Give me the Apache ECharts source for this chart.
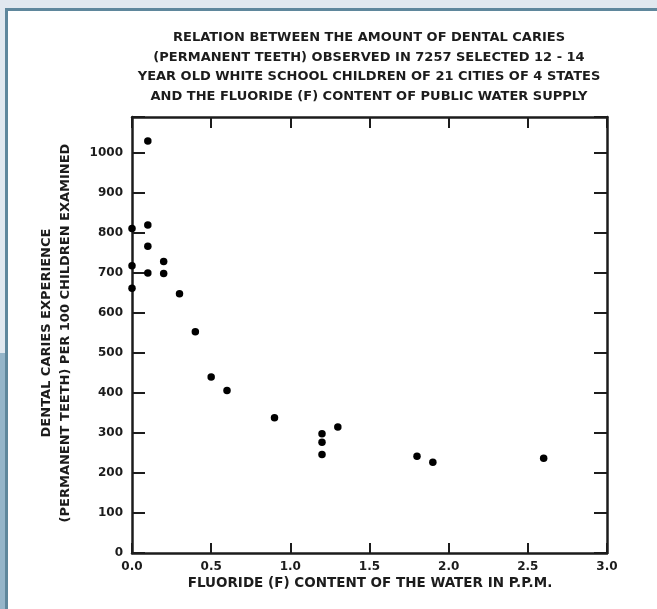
<!DOCTYPE html>
<html>
<head>
<meta charset="utf-8">
<script src="https://cdn.jsdelivr.net/npm/echarts@6/dist/echarts.min.js"></script>
<style>
  html, body { margin:0; padding:0; width:657px; height:609px; overflow:hidden; background:#e1e8ef; }
  #strip { position:absolute; left:0; top:353px; width:5px; height:256px; background:#95b5c9; }
  #panel { position:absolute; left:5px; top:8px; width:652px; height:601px; box-sizing:border-box;
           border-left:3px solid #5f879c; border-top:3px solid #5f879c; background:#fff; }
  #chart { position:absolute; left:0; top:0; width:657px; height:609px; }
</style>
</head>
<body>
<div id="strip"></div>
<div id="panel"></div>
<div id="chart"></div>
<script>
// Fluoride content of water (p.p.m.)
const fluoride = [0.0, 0.0, 0.0, 0.1, 0.1, 0.1, 0.1, 0.2, 0.2, 0.3, 0.4, 0.5, 0.6, 0.9, 1.2, 1.2, 1.2, 1.3, 1.8, 1.9, 2.6];
// Dental caries experience per 100 children examined
const caries = [811, 718, 662, 1030, 820, 767, 700, 729, 699, 648, 553, 440, 406, 338, 298, 277, 246, 315, 242, 227, 237];
const titleLines = [
  'RELATION BETWEEN THE AMOUNT OF DENTAL CARIES',
  '(PERMANENT TEETH) OBSERVED IN 7257 SELECTED 12 - 14',
  'YEAR OLD WHITE SCHOOL CHILDREN OF 21 CITIES OF 4 STATES',
  'AND THE FLUORIDE (F) CONTENT OF PUBLIC WATER SUPPLY'
];
const xName = 'FLUORIDE (F) CONTENT OF THE WATER IN P.P.M.';
const yNameLines = ['DENTAL CARIES EXPERIENCE', '(PERMANENT TEETH) PER 100 CHILDREN EXAMINED'];

const FONT = '"DejaVu Sans", Verdana, sans-serif';
const INK = '#1c1c1c';
const points = fluoride.map((x, i) => [x, caries[i]]);

const axisLine = { show: true, onZero: false, lineStyle: { color: INK, width: 2.5 } };
const chart = echarts.init(document.getElementById('chart'), null, { renderer: 'canvas' });
chart.setOption({
  backgroundColor: 'transparent',
  animation: false,
  grid: { left: 132, right: 50, top: 117, bottom: 56, containLabel: false },
  xAxis: [
    { type: 'value', min: 0, max: 3, interval: 0.5, position: 'bottom',
      axisLine: axisLine, splitLine: { show: false },
      axisTick: { show: true, inside: true, length: 10, lineStyle: { color: INK, width: 2 } },
      axisLabel: { show: true, margin: 8, color: INK, fontFamily: FONT, fontWeight: 'bold', fontSize: 12,
                   formatter: v => v.toFixed(1) } },
    { type: 'value', min: 0, max: 3, interval: 0.5, position: 'top',
      axisLine: axisLine, splitLine: { show: false },
      axisTick: { show: true, inside: true, length: 11, lineStyle: { color: INK, width: 2 } },
      axisLabel: { show: false } }
  ],
  yAxis: [
    { type: 'value', min: 0, max: 1090, interval: 100, position: 'left',
      axisLine: axisLine, splitLine: { show: false },
      axisTick: { show: true, inside: true, length: 13, lineStyle: { color: INK, width: 2 } },
      axisLabel: { show: true, margin: 9, color: INK, fontFamily: FONT, fontWeight: 'bold', fontSize: 12,
                   formatter: v => (v % 100 === 0 ? String(v) : '') } },
    { type: 'value', min: 0, max: 1090, interval: 100, position: 'right',
      axisLine: axisLine, splitLine: { show: false },
      axisTick: { show: true, inside: true, length: 13, lineStyle: { color: INK, width: 2 } },
      axisLabel: { show: false } }
  ],
  series: [{
    type: 'scatter', xAxisIndex: 0, yAxisIndex: 0, data: points,
    symbol: 'circle', symbolSize: 7.5, itemStyle: { color: '#000', opacity: 1 }
  }],
  graphic: [
    { type: 'text', x: 369, y: 28, style: {
        text: titleLines.join('\n'), fill: INK, font: 'bold 13px ' + FONT,
        textAlign: 'center', textVerticalAlign: 'top', lineHeight: 19.5 } },
    { type: 'text', x: 370, y: 583, style: {
        text: xName, fill: INK, font: 'bold 13.5px ' + FONT,
        textAlign: 'center', textVerticalAlign: 'middle' } },
    { type: 'text', x: 56, y: 333, rotation: Math.PI / 2, style: {
        text: yNameLines.join('\n'), fill: INK, font: 'bold 13px ' + FONT,
        textAlign: 'center', textVerticalAlign: 'middle', lineHeight: 19 } }
  ]
});
</script>
</body>
</html>
